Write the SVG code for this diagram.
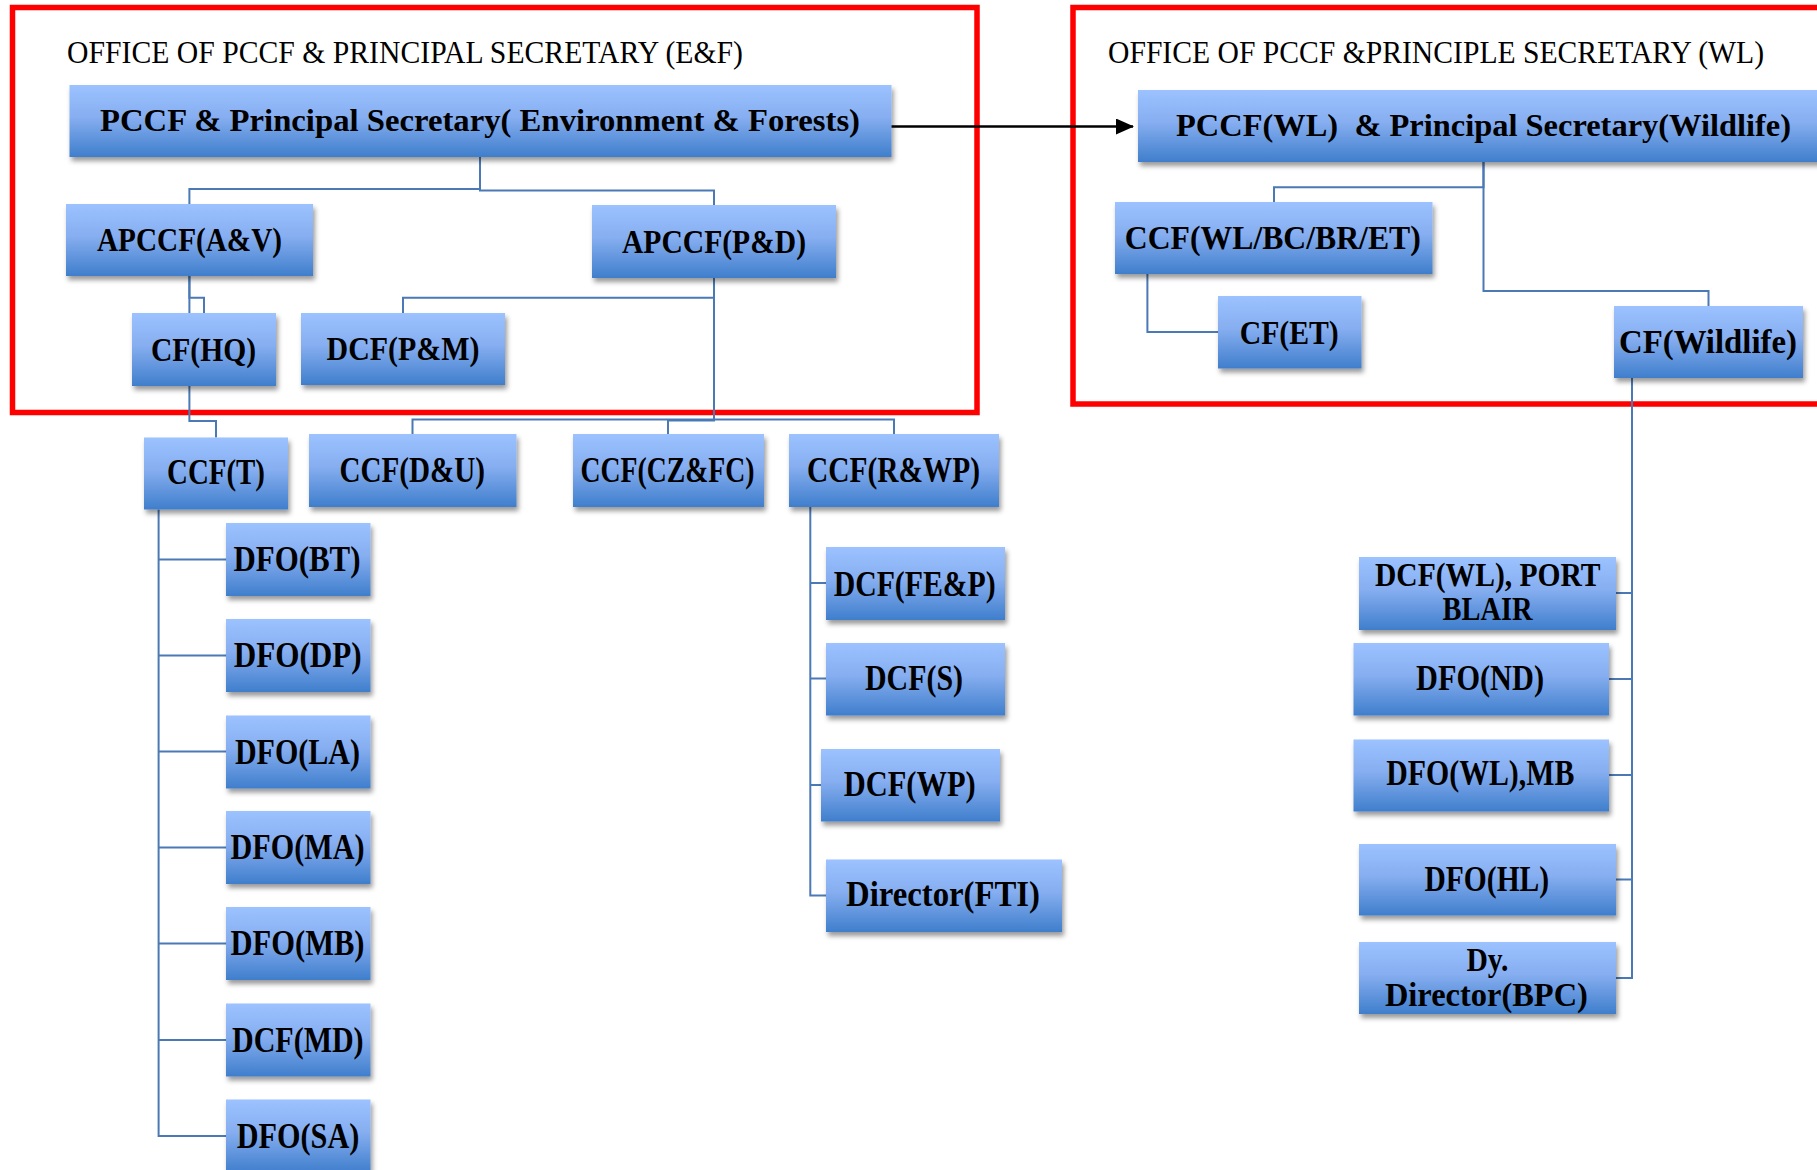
<svg xmlns="http://www.w3.org/2000/svg" width="1817" height="1170" viewBox="0 0 1817 1170">
<style>
.box{fill:url(#g);filter:url(#sh)}
.t{font-family:"Liberation Serif","Times New Roman",serif;font-weight:bold;font-size:33px;fill:#000;text-anchor:middle}
.s{font-size:35px}
.top{font-size:31px}
.title{font-family:"Liberation Serif","Times New Roman",serif;font-size:32px;fill:#000}
.c{fill:none;stroke:#4A79B5;stroke-width:2}
.frame{fill:none;stroke:#FF0000;stroke-width:5.5}
</style>
<defs>
<linearGradient id="g" x1="0" y1="0" x2="0" y2="1">
<stop offset="0" stop-color="#9CC2FF"/>
<stop offset="0.45" stop-color="#86AEF0"/>
<stop offset="1" stop-color="#3F7ECC"/>
</linearGradient>
<filter id="sh" x="-10%" y="-10%" width="125%" height="140%">
<feDropShadow dx="2" dy="4" stdDeviation="2.5" flood-color="#000" flood-opacity="0.4"/>
</filter>
<marker id="ah" markerWidth="18" markerHeight="16" refX="17" refY="8" orient="auto" markerUnits="userSpaceOnUse">
<polygon points="0,0 18,8 0,16" fill="#000"/>
</marker>
</defs>
<rect width="1817" height="1170" fill="#fff"/>

<g id="frames">
<rect class="frame" x="12.5" y="7.5" width="964.5" height="405"/>
<rect class="frame" x="1073" y="7.5" width="800" height="396.5"/>
<text class="title" x="67" y="62.7" textLength="676" lengthAdjust="spacingAndGlyphs">OFFICE OF PCCF &amp; PRINCIPAL SECRETARY (E&amp;F)</text>
<text class="title" x="1108" y="62.7" textLength="656" lengthAdjust="spacingAndGlyphs">OFFICE OF PCCF &amp;PRINCIPLE SECRETARY (WL)</text>
</g>

<g id="connectors">
<path class="c" d="M480,157 V189 H189.4 V204"/>
<path class="c" d="M480,157 V190.5 H714 V205"/>
<path class="c" d="M189.4,276 V297.7 H204 V313"/>
<path class="c" d="M189.4,276 V421 H216 V437.5"/>
<path class="c" d="M714,278 V297.7 H403 V313"/>
<path class="c" d="M714,278 V419.5 H412.5 V434"/>
<path class="c" d="M714,278 V420.5 H668 V434"/>
<path class="c" d="M714,278 V419.5 H894 V434"/>
<path class="c" d="M158.6,509.5 V1136 H226 M158.6,559.5 H226 M158.6,655.5 H226 M158.6,751.5 H226 M158.6,847.5 H226 M158.6,943.5 H226 M158.6,1040 H226"/>
<path class="c" d="M810.3,507 V895.5 H826 M810.3,583 H826 M810.3,678.5 H826 M810.3,785 H821"/>
<path class="c" d="M1483.5,162 V187.3 H1274 V202"/>
<path class="c" d="M1483.5,162 V291 H1708.5 V306"/>
<path class="c" d="M1147.4,274 V332 H1218"/>
<path class="c" d="M1632,378 V978 H1616 M1632,593 H1616 M1632,679 H1609 M1632,775 H1609 M1632,879.5 H1616"/>
<line x1="886" y1="126.5" x2="1133" y2="126.5" stroke="#000" stroke-width="2.5" marker-end="url(#ah)"/>
</g>

<g id="n-pccf-ef"><rect class="box" x="69.5" y="85" width="822" height="72"/><text class="t top" x="480" y="130.5" textLength="760" lengthAdjust="spacingAndGlyphs">PCCF &amp; Principal Secretary( Environment &amp; Forests)</text></g>
<g id="n-pccf-wl"><rect class="box" x="1138" y="90" width="690" height="72"/><text class="t top" x="1483.5" y="135.5" textLength="615" lengthAdjust="spacingAndGlyphs" xml:space="preserve">PCCF(WL)  &amp; Principal Secretary(Wildlife)</text></g>
<g id="n-apccf-av"><rect class="box" x="66" y="204" width="247" height="72"/><text class="t" x="189.5" y="251" textLength="185" lengthAdjust="spacingAndGlyphs">APCCF(A&amp;V)</text></g>
<g id="n-apccf-pd"><rect class="box" x="592" y="205" width="244" height="73"/><text class="t" x="714" y="252.5" textLength="184" lengthAdjust="spacingAndGlyphs">APCCF(P&amp;D)</text></g>
<g id="n-cf-hq"><rect class="box" x="132" y="313" width="144" height="73"/><text class="t" x="203.5" y="360.5" textLength="105" lengthAdjust="spacingAndGlyphs">CF(HQ)</text></g>
<g id="n-dcf-pm"><rect class="box" x="301" y="313" width="204" height="72"/><text class="t" x="403" y="360" textLength="153" lengthAdjust="spacingAndGlyphs">DCF(P&amp;M)</text></g>
<g id="n-ccf-t"><rect class="box" x="144" y="437.5" width="144" height="72"/><text class="t s" x="216" y="484" textLength="98" lengthAdjust="spacingAndGlyphs">CCF(T)</text></g>
<g id="n-ccf-du"><rect class="box" x="309" y="434" width="207.5" height="73"/><text class="t s" x="412.3" y="481.5" textLength="145.5" lengthAdjust="spacingAndGlyphs">CCF(D&amp;U)</text></g>
<g id="n-ccf-czfc"><rect class="box" x="573" y="434" width="191" height="73"/><text class="t s" x="667.5" y="481.5" textLength="174" lengthAdjust="spacingAndGlyphs">CCF(CZ&amp;FC)</text></g>
<g id="n-ccf-rwp"><rect class="box" x="789" y="434" width="210" height="73"/><text class="t s" x="893.5" y="481.5" textLength="173" lengthAdjust="spacingAndGlyphs">CCF(R&amp;WP)</text></g>

<g id="n-dfo-bt"><rect class="box" x="226" y="523" width="144.5" height="73"/><text class="t s" x="297" y="571" textLength="127" lengthAdjust="spacingAndGlyphs">DFO(BT)</text></g>
<g id="n-dfo-dp"><rect class="box" x="226" y="619" width="144.5" height="73"/><text class="t s" x="297.7" y="667" textLength="128" lengthAdjust="spacingAndGlyphs">DFO(DP)</text></g>
<g id="n-dfo-la"><rect class="box" x="226" y="715.5" width="144.5" height="73"/><text class="t s" x="297.4" y="763.5" textLength="125" lengthAdjust="spacingAndGlyphs">DFO(LA)</text></g>
<g id="n-dfo-ma"><rect class="box" x="226" y="811" width="144.5" height="73"/><text class="t s" x="297.5" y="859" textLength="134" lengthAdjust="spacingAndGlyphs">DFO(MA)</text></g>
<g id="n-dfo-mb"><rect class="box" x="226" y="907" width="144.5" height="73"/><text class="t s" x="297.5" y="955" textLength="134" lengthAdjust="spacingAndGlyphs">DFO(MB)</text></g>
<g id="n-dcf-md"><rect class="box" x="226" y="1003.5" width="144.5" height="73"/><text class="t s" x="297.8" y="1051.5" textLength="131.6" lengthAdjust="spacingAndGlyphs">DCF(MD)</text></g>
<g id="n-dfo-sa"><rect class="box" x="226" y="1099.5" width="144.5" height="73"/><text class="t s" x="298" y="1147.5" textLength="122.6" lengthAdjust="spacingAndGlyphs">DFO(SA)</text></g>

<g id="n-dcf-fep"><rect class="box" x="826" y="547" width="179" height="73"/><text class="t s" x="914.7" y="595.6" textLength="162" lengthAdjust="spacingAndGlyphs">DCF(FE&amp;P)</text></g>
<g id="n-dcf-s"><rect class="box" x="826" y="643" width="179" height="72.5"/><text class="t s" x="914" y="689.5" textLength="98" lengthAdjust="spacingAndGlyphs">DCF(S)</text></g>
<g id="n-dcf-wp"><rect class="box" x="821" y="749" width="179" height="72.5"/><text class="t s" x="909.7" y="796.4" textLength="132" lengthAdjust="spacingAndGlyphs">DCF(WP)</text></g>
<g id="n-director-fti"><rect class="box" x="826" y="859.5" width="236" height="72.5"/><text class="t s" x="943" y="906" textLength="194" lengthAdjust="spacingAndGlyphs">Director(FTI)</text></g>

<g id="n-ccf-wl"><rect class="box" x="1115" y="202" width="317.5" height="72"/><text class="t" x="1272.8" y="249" textLength="296" lengthAdjust="spacingAndGlyphs">CCF(WL/BC/BR/ET)</text></g>
<g id="n-cf-et"><rect class="box" x="1218" y="296" width="143.5" height="72.5"/><text class="t" x="1289.2" y="343.5" textLength="99" lengthAdjust="spacingAndGlyphs">CF(ET)</text></g>
<g id="n-cf-wildlife"><rect class="box" x="1614" y="306" width="189" height="72"/><text class="t" x="1708" y="353" textLength="178" lengthAdjust="spacingAndGlyphs">CF(Wildlife)</text></g>

<g id="n-dcf-wl-pb"><rect class="box" x="1359" y="557" width="257" height="73"/><text class="t" x="1487.8" y="585.5" textLength="225.6" lengthAdjust="spacingAndGlyphs">DCF(WL), PORT</text><text class="t" x="1487.6" y="620" textLength="90" lengthAdjust="spacingAndGlyphs">BLAIR</text></g>
<g id="n-dfo-nd"><rect class="box" x="1353.5" y="643" width="255.5" height="72.5"/><text class="t s" x="1480" y="689.6" textLength="128" lengthAdjust="spacingAndGlyphs">DFO(ND)</text></g>
<g id="n-dfo-wl-mb"><rect class="box" x="1353.5" y="739.5" width="255.5" height="72"/><text class="t s" x="1480.3" y="785" textLength="188" lengthAdjust="spacingAndGlyphs">DFO(WL),MB</text></g>
<g id="n-dfo-hl"><rect class="box" x="1359" y="844" width="257" height="71.5"/><text class="t s" x="1486.8" y="891" textLength="124.6" lengthAdjust="spacingAndGlyphs">DFO(HL)</text></g>
<g id="n-dy-director-bpc"><rect class="box" x="1359" y="942" width="257" height="72"/><text class="t" x="1487.4" y="971.4" textLength="42" lengthAdjust="spacingAndGlyphs">Dy.</text><text class="t" x="1486.4" y="1006" textLength="203" lengthAdjust="spacingAndGlyphs">Director(BPC)</text></g>
</svg>
